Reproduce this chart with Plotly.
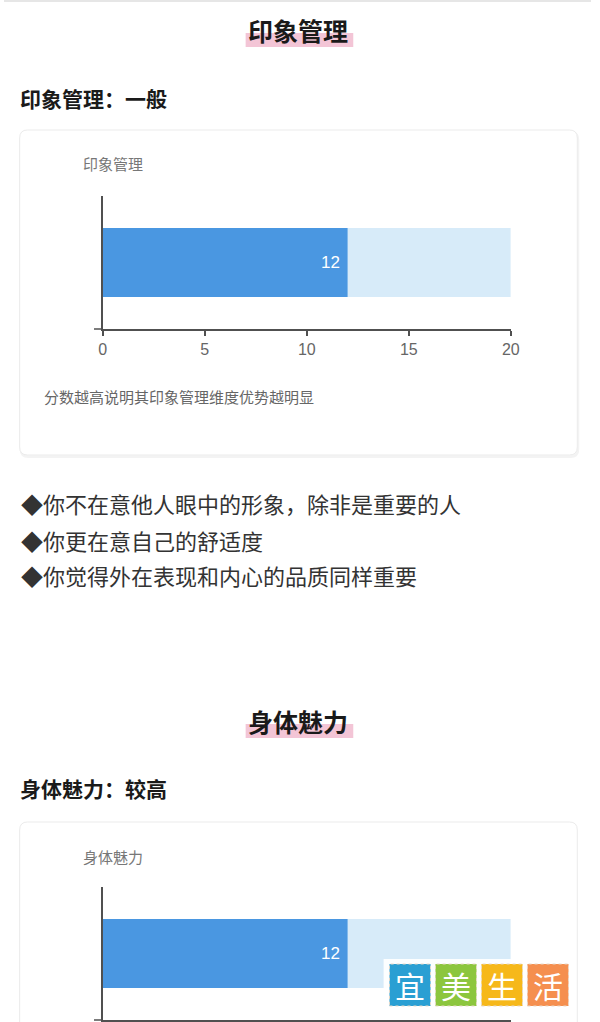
import plotly.graph_objects as go

# ---------------- data ----------------
dimensions = ["印象管理", "身体魅力"]
levels = ["一般", "较高"]
scores = [12, 12]
max_scores = [20, 20]
tick_values = [0, 5, 10, 15, 20]
note_text = "分数越高说明其印象管理维度优势越明显"
bullets = [
    "◆你不在意他人眼中的形象，除非是重要的人",
    "◆你更在意自己的舒适度",
    "◆你觉得外在表现和内心的品质同样重要",
]
watermark_chars = ["宜", "美", "生", "活"]
watermark_colors = ["#2a9fd3", "#8cc63e", "#f6b81a", "#f58f4f"]

# ---------------- layout helpers ----------------
W, H = 600, 1022
FONT = "Noto Sans CJK SC"
def px(x):
    return x / W
def py(y):
    return 1 - y / H

DARK = "#4a97e1"
LIGHT = "#d7ebf9"
AXIS = "#505050"

fig = go.Figure()
shapes = []
annotations = []

def card_path(x0, y0, x1, y1, r, line_color, fill, width=1, open_bottom=False):
    if open_bottom:
        path = (f"M {px(x0)} {py(y1)} L {px(x0)} {py(y0+r)} "
                f"Q {px(x0)} {py(y0)} {px(x0+r)} {py(y0)} "
                f"L {px(x1-r)} {py(y0)} Q {px(x1)} {py(y0)} {px(x1)} {py(y0+r)} "
                f"L {px(x1)} {py(y1)}")
    else:
        path = (f"M {px(x0+r)} {py(y0)} L {px(x1-r)} {py(y0)} "
                f"Q {px(x1)} {py(y0)} {px(x1)} {py(y0+r)} "
                f"L {px(x1)} {py(y1-r)} Q {px(x1)} {py(y1)} {px(x1-r)} {py(y1)} "
                f"L {px(x0+r)} {py(y1)} Q {px(x0)} {py(y1)} {px(x0)} {py(y1-r)} "
                f"L {px(x0)} {py(y0+r)} Q {px(x0)} {py(y0)} {px(x0+r)} {py(y0)} Z")
    return dict(type="path", xref="paper", yref="paper", path=path,
                line=dict(color=line_color, width=width), fillcolor=fill, layer="below")

# top separator
shapes.append(dict(type="line", xref="paper", yref="paper", x0=0, x1=1,
                   y0=py(1), y1=py(1), line=dict(color="#e6e6e6", width=2)))

sections = [
    dict(title_y=30, sub_y=98, card=(16, 130, 586, 455), label_y=163,
         axis_top=196, axis_bottom=329, note_y=396, open_bottom=False, labels=True),
    dict(title_y=721, sub_y=788, card=(16, 822, 586, 1022), label_y=856,
         axis_top=887, axis_bottom=1020, note_y=None, open_bottom=True, labels=False),
]

for i, s in enumerate(sections):
    n = "" if i == 0 else str(i + 1)
    # pink highlight under title
    shapes.append(dict(type="rect", xref="paper", yref="paper",
                       x0=px(247), x1=px(357), y0=py(s["title_y"] + 17), y1=py(s["title_y"] + 3),
                       fillcolor="#f3c5d6", line=dict(width=0), layer="below"))
    annotations.append(dict(xref="paper", yref="paper", x=0.5, y=py(s["title_y"]),
                            text=f"<b>{dimensions[i]}</b>", showarrow=False,
                            xanchor="center", yanchor="middle",
                            font=dict(family=FONT, size=25, color="#1a1a1a")))
    annotations.append(dict(xref="paper", yref="paper", x=px(14), y=py(s["sub_y"]),
                            text=f"<b>{dimensions[i]}：{levels[i]}</b>", showarrow=False,
                            xanchor="left", yanchor="middle",
                            font=dict(family=FONT, size=21, color="#1a1a1a")))
    # card
    x0, y0, x1, y1 = s["card"]
    if not s["open_bottom"]:
        shapes.append(card_path(x0 + 1, y0 + 2, x1 + 1, y1 + 2, 8, "#f3f3f3", "#f6f6f6", 2))
    shapes.append(card_path(x0, y0, x1, y1, 8, "#ebebeb", "#ffffff", 1, s["open_bottom"]))
    annotations.append(dict(xref="paper", yref="paper", x=px(79), y=py(s["label_y"]),
                            text=dimensions[i], showarrow=False,
                            xanchor="left", yanchor="middle",
                            font=dict(family=FONT, size=15, color="#777777")))
    if s["note_y"] is not None:
        annotations.append(dict(xref="paper", yref="paper", x=px(39), y=py(s["note_y"]),
                                text=note_text, showarrow=False,
                                xanchor="left", yanchor="middle",
                                font=dict(family=FONT, size=15, color="#666666")))
    # x-axis stub to the left of 0
    shapes.append(dict(type="line", xref="paper", yref="paper",
                       x0=px(92), x1=px(101), y0=py(s["axis_bottom"]), y1=py(s["axis_bottom"]),
                       line=dict(color=AXIS, width=1.5)))

    # bars
    fig.add_trace(go.Bar(y=[dimensions[i]], x=[max_scores[i]], orientation="h",
                         marker=dict(color=LIGHT, line=dict(width=0)), width=0.52,
                         xaxis=f"x{n}", yaxis=f"y{n}", hoverinfo="skip", showlegend=False))
    fig.add_trace(go.Bar(y=[dimensions[i]], x=[scores[i]], orientation="h",
                         marker=dict(color=DARK, line=dict(width=0)), width=0.52,
                         xaxis=f"x{n}", yaxis=f"y{n}", showlegend=False))
    annotations.append(dict(xref=f"x{n}", yref=f"y{n}", x=scores[i], y=dimensions[i],
                            text=str(scores[i]), showarrow=False, xanchor="right",
                            yanchor="middle", xshift=-6,
                            font=dict(family="Liberation Sans", size=17, color="white")))

    xa = dict(domain=[px(101), px(518)], range=[0, 20], anchor=f"y{n}",
              tickvals=tick_values, ticktext=[str(v) for v in tick_values],
              showline=True, linecolor=AXIS, linewidth=1.5,
              ticks="outside" if s["labels"] else "", ticklen=5, tickcolor=AXIS, tickwidth=1.5,
              showticklabels=s["labels"],
              showgrid=False, zeroline=False, fixedrange=True,
              tickfont=dict(family="Liberation Sans", size=16, color="#666666"))
    ya = dict(domain=[py(s["axis_bottom"]), py(s["axis_top"])], anchor=f"x{n}",
              range=[-0.5, 0.5], type="category", showline=True, linecolor=AXIS,
              linewidth=1.5, showticklabels=False, ticks="", showgrid=False,
              zeroline=False, fixedrange=True)
    fig.update_layout(**{f"xaxis{n}": xa, f"yaxis{n}": ya})

# bullet lines
for j, (b, yb) in enumerate(zip(bullets, [503, 540, 575])):
    annotations.append(dict(xref="paper", yref="paper", x=px(15), y=py(yb),
                            text=b, showarrow=False, xanchor="left", yanchor="middle",
                            font=dict(family=FONT, size=22, color="#333333")))

# watermark tiles
shapes.append(dict(type="rect", xref="paper", yref="paper", x0=px(388), x1=px(584),
                   y0=py(1010), y1=py(959), fillcolor="rgba(255,255,255,0.92)",
                   line=dict(width=0), layer="above"))
for k, (ch, col) in enumerate(zip(watermark_chars, watermark_colors)):
    tx0 = 394 + k * 47
    shapes.append(dict(type="rect", xref="paper", yref="paper",
                       x0=px(tx0), x1=px(tx0 + 42), y0=py(1006), y1=py(964),
                       fillcolor=col, line=dict(color="#e8d9c8", width=1, dash="dot"),
                       layer="above"))
    annotations.append(dict(xref="paper", yref="paper", x=px(tx0 + 21), y=py(985),
                            text=ch, showarrow=False, xanchor="center", yanchor="middle",
                            font=dict(family=FONT, size=30, color="white")))

fig.update_layout(
    width=W, height=H,
    margin=dict(l=0, r=0, t=0, b=0),
    paper_bgcolor="white", plot_bgcolor="rgba(0,0,0,0)",
    barmode="overlay",
    shapes=shapes, annotations=annotations,
    font=dict(family=FONT),
)

fig.write_html(
    "out.html",
    config={"displayModeBar": False},
    post_script=(
        "document.body.style.margin='0';"
        "document.body.style.width='600px';document.body.style.height='1022px';"
        "document.documentElement.style.overflow='hidden';document.body.style.overflow='hidden';"
        "document.querySelectorAll('.svg-container').forEach(function(e){e.style.overflow='hidden';});"
    ),
)
